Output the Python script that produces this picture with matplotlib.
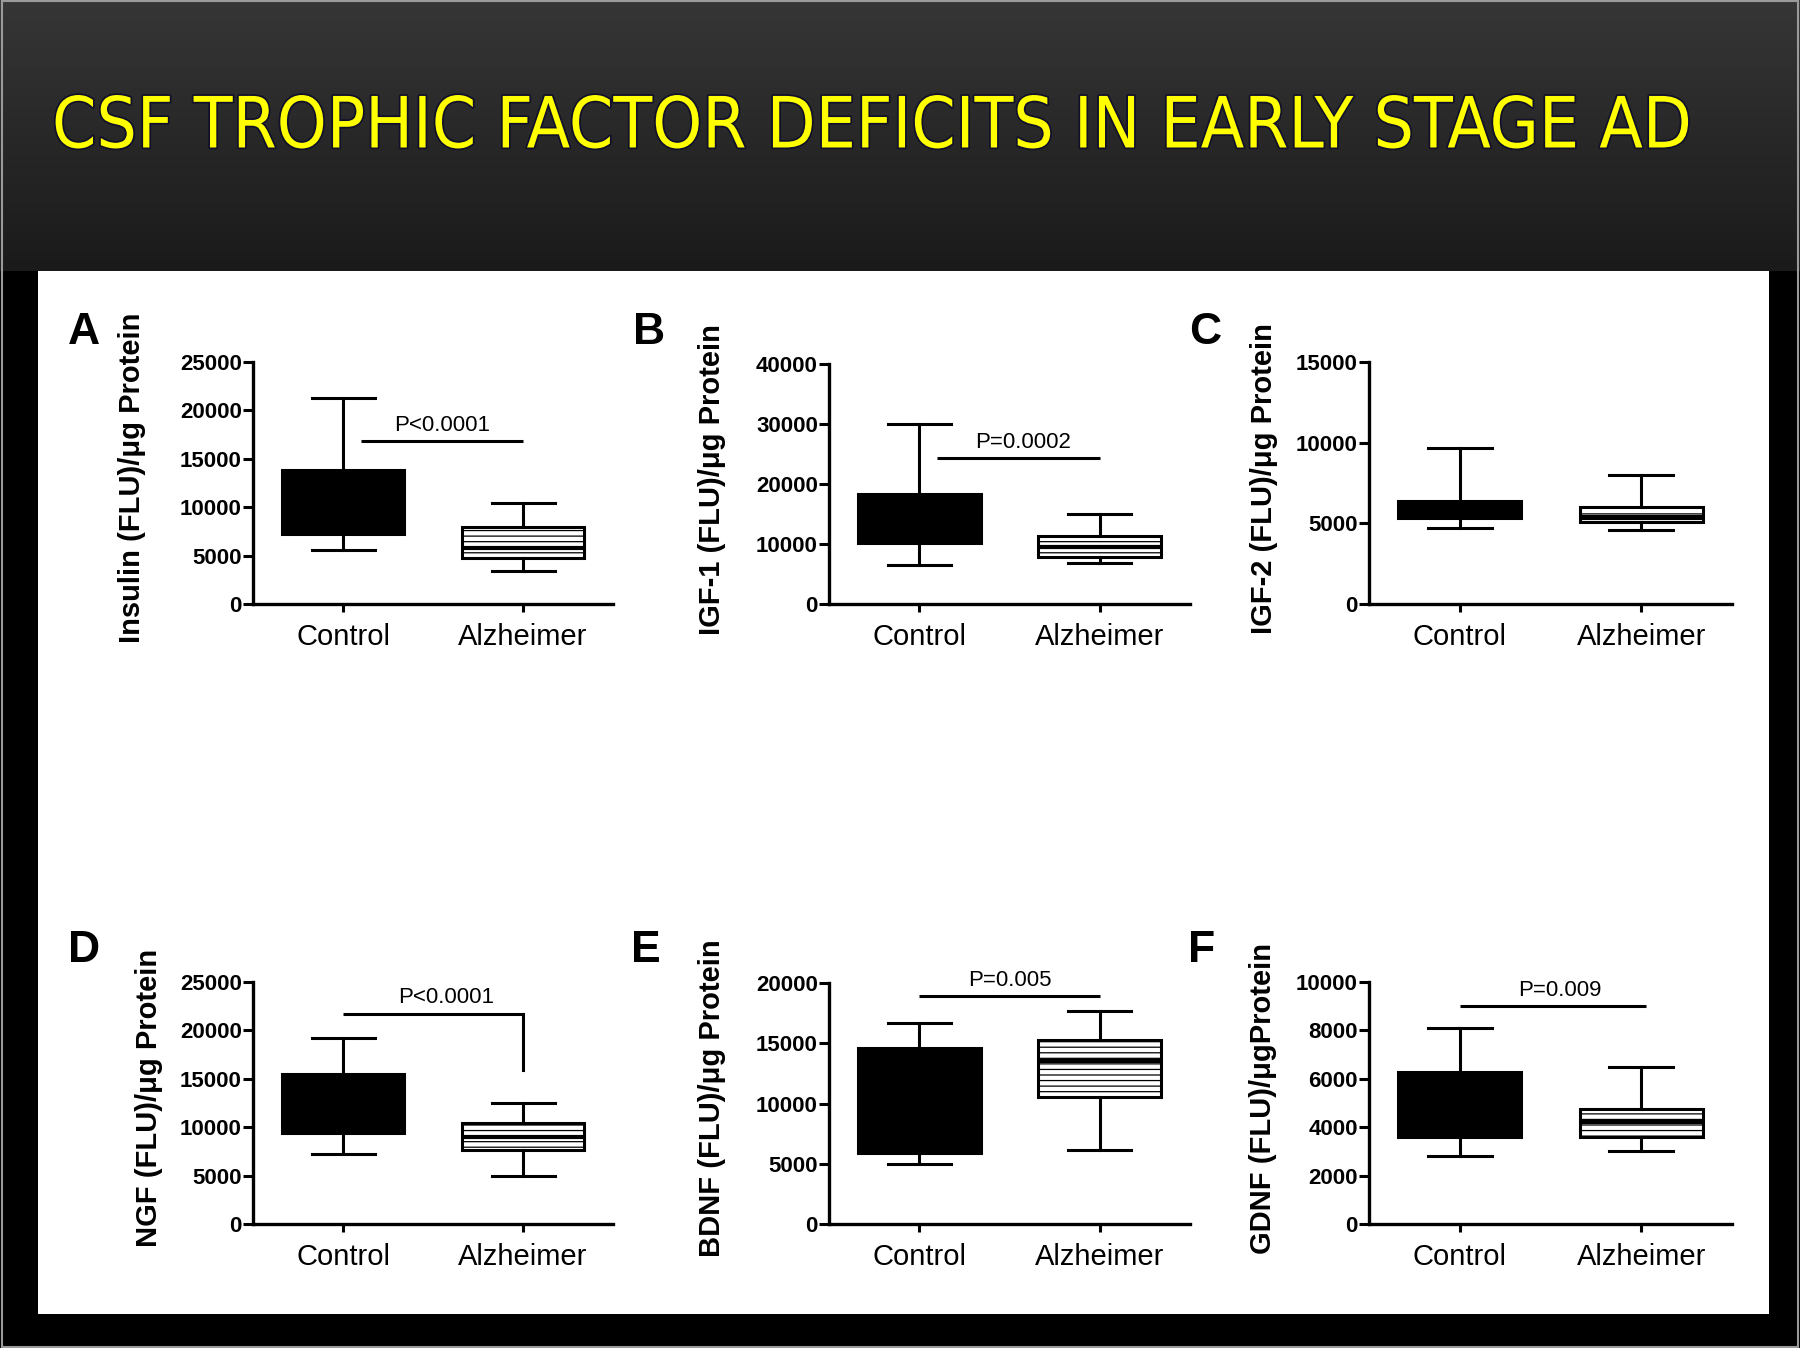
import numpy as np
import matplotlib
matplotlib.use("Agg")
import matplotlib.pyplot as plt
from matplotlib import font_manager as fm
from matplotlib.patches import Rectangle
from matplotlib.colors import LinearSegmentedColormap
import matplotlib.patheffects as pe

plt.rcParams['font.family'] = ['Liberation Sans', 'DejaVu Sans']
plt.rcParams['hatch.linewidth'] = 0.9

title = "CSF TROPHIC FACTOR DEFICITS IN EARLY STAGE AD"
groups = ['Control', 'Alzheimer']
panel_letters = ['A', 'B', 'C', 'D', 'E', 'F']
y_labels = [
    'Insulin (FLU)/\u03bcg Protein',
    'IGF-1 (FLU)/\u03bcg Protein',
    'IGF-2 (FLU)/\u03bcg Protein',
    'NGF (FLU)/\u03bcg Protein',
    'BDNF (FLU)/\u03bcg Protein',
    'GDNF (FLU)/\u03bcgProtein',
]
y_max = [25000, 40000, 15000, 25000, 20000, 10000]
y_step = [5000, 10000, 5000, 5000, 5000, 2000]

# box summaries: lower whisker, Q1, median, Q3, upper whisker
control_stats = [
    [5600, 7200, 10000, 13800, 21300],
    [6500, 10200, 13500, 18400, 30000],
    [4700, 5300, 5800, 6400, 9700],
    [7200, 9400, 12000, 15500, 19200],
    [5000, 5900, 9000, 14600, 16700],
    [2800, 3600, 4500, 6300, 8100],
]
alzheimer_stats = [
    [3400, 4800, 5800, 8000, 10400],
    [6900, 7900, 9500, 11400, 15000],
    [4600, 5100, 5400, 6000, 8000],
    [5000, 7600, 9000, 10400, 12500],
    [6100, 10500, 13500, 15300, 17700],
    [3000, 3600, 4200, 4750, 6500],
]

# significance bars
p_labels = ['P<0.0001', 'P=0.0002', None, 'P<0.0001', 'P=0.005', 'P=0.009']
p_line_y = [16800, 24300, None, 21700, 18900, 9000]
p_line_x = [(1.2, 3.0), (1.2, 3.0), None, (1.0, 3.0), (1.0, 3.0), (1.0, 3.05)]
p_drop_y = [None, None, None, 15900, None, None]
p_text_x = [2.1, 2.15, None, 2.15, 2.0, 2.1]

W, H = 1800, 1348
fig = plt.figure(figsize=(18, 13.48), dpi=100, facecolor='black')

# dark gradient header
head = fig.add_axes([0, 1 - 271 / H, 1, 271 / H], zorder=-10)
head.set_axis_off()
grad = np.linspace(0, 1, 200).reshape(-1, 1)
cmap = LinearSegmentedColormap.from_list('hdr', ['#363636', '#1a1a1a'])
head.imshow(grad, cmap=cmap, aspect='auto', extent=[0, 1, 0, 1])

# white panel behind the charts
fig.patches.append(Rectangle((38 / W, 1 - 1314 / H), (1769 - 38) / W, (1314 - 271) / H,
                             transform=fig.transFigure, facecolor='white',
                             edgecolor='none', zorder=-5))
fig.patches.append(Rectangle((0.001, 0.001), 0.998, 0.998, transform=fig.transFigure,
                             fill=False, edgecolor='#9a9a9a', linewidth=1.5, zorder=10))

# title: prefer a narrow sans face if one is installed, then fit it to the width
narrow = sorted(f.fname for f in fm.fontManager.ttflist
                if any(k in f.fname for k in ('Narrow', 'Condensed'))
                and not any(k in f.fname for k in ('Bold', 'Italic', 'Oblique', 'Light', 'Mono', 'Serif')))
title_font = fm.FontProperties(fname=narrow[0]) if narrow else fm.FontProperties(family='Liberation Sans')
ttl = fig.text(52 / W, 1 - 128 / H, title, color='#ffff00', fontproperties=title_font,
               ha='left', va='center',
               path_effects=[pe.withStroke(linewidth=2.5, foreground='#10102a')])
ttl.set_fontsize(53)
rend = fig.canvas.get_renderer()
tw = ttl.get_window_extent(rend).width
if tw > 1640:
    ttl.set_fontsize(53 * 1640 / tw)

lefts = [253, 829, 1369]
widths = [360, 361, 363]
tops = [[362, 364, 362], [982, 983, 982]]
bottoms = [604, 1224]
label_x = [-0.336, -0.324, -0.29, -0.289, -0.324, -0.292]
letter_pos = [(84, 333), (649, 333), (1205, 333), (84, 951), (646, 951), (1202, 951)]

for i in range(6):
    r, c = divmod(i, 3)
    ax = fig.add_axes([lefts[c] / W, 1 - bottoms[r] / H, widths[c] / W,
                       (bottoms[r] - tops[r][c]) / H])
    ax.set_facecolor('none')

    stats = []
    for vals in (control_stats[i], alzheimer_stats[i]):
        lo, q1, med, q3, hi = vals
        stats.append(dict(whislo=lo, q1=q1, med=med, q3=q3, whishi=hi, fliers=[]))
    bp = ax.bxp(stats, positions=[1, 3], widths=1.36, capwidths=0.7,
                patch_artist=True, showfliers=False,
                boxprops=dict(linewidth=2.2, edgecolor='black'),
                whiskerprops=dict(linewidth=2.2, color='black'),
                capprops=dict(linewidth=2.2, color='black'),
                medianprops=dict(linewidth=3, color='black'))
    bp['boxes'][0].set_facecolor('black')
    bp['boxes'][1].set_facecolor('white')
    bp['boxes'][1].set_hatch('---')

    ax.set_xlim(0, 4)
    ax.set_ylim(0, y_max[i])
    ax.set_yticks(np.arange(0, y_max[i] + 1, y_step[i]))
    ax.set_xticks([1, 3])
    ax.set_xticklabels(groups, fontsize=21)
    for t in ax.get_yticklabels():
        t.set_fontweight('bold')
        t.set_fontsize(16)
    ax.tick_params(axis='y', length=7, width=2.2, pad=1)
    ax.tick_params(axis='x', length=6, width=2.2, pad=8)
    for s in ['top', 'right']:
        ax.spines[s].set_visible(False)
    for s in ['left', 'bottom']:
        ax.spines[s].set_linewidth(2.4)

    ax.text(label_x[i], 0.52, y_labels[i], transform=ax.transAxes, rotation=90,
            ha='center', va='center', fontsize=21, fontweight='bold')

    if p_labels[i] is not None:
        x0, x1 = p_line_x[i]
        ax.plot([x0, x1], [p_line_y[i], p_line_y[i]], color='black', lw=2.2,
                clip_on=False, solid_capstyle='butt')
        if p_drop_y[i] is not None:
            ax.plot([x1, x1], [p_line_y[i], p_drop_y[i]], color='black', lw=2.2,
                    clip_on=False)
        ax.annotate(p_labels[i], (p_text_x[i], p_line_y[i]), xytext=(0, 4),
                    textcoords='offset points', ha='center', va='bottom', fontsize=16)

    lx, ly = letter_pos[i]
    fig.text(lx / W, 1 - ly / H, panel_letters[i], fontsize=32, fontweight='bold',
             ha='center', va='center')

fig.savefig('out.png', dpi=100, facecolor='black')
